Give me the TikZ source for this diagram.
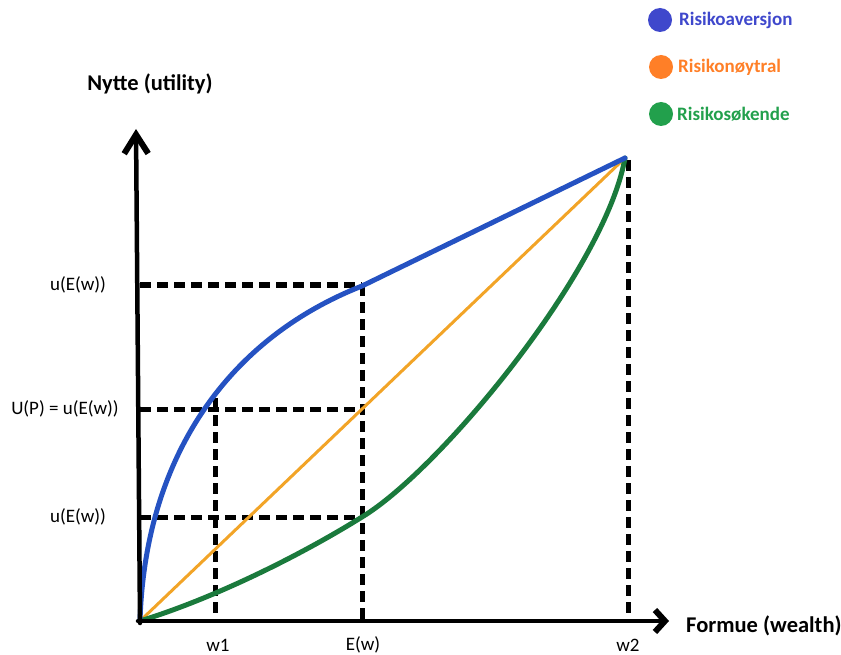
\documentclass[tikz,border=0pt]{standalone}
\usepackage{fontspec}
\setmainfont{Carlito}
\usetikzlibrary{arrows.meta}
\definecolor{cblue}{HTML}{2552C2}
\definecolor{corange}{HTML}{F2A427}
\definecolor{cgreen}{HTML}{1A7A3C}
\definecolor{lblue}{HTML}{3F48CC}
\definecolor{lorange}{HTML}{FF7F27}
\definecolor{lgreen}{HTML}{22A04C}
\tikzset{
  yaxis/.style={line width=4.5pt, line cap=round, -{Straight Barb[length=19pt,width=24pt,line width=6pt]}},
  xaxis/.style={line width=4.5pt, line cap=round, -{Straight Barb[length=10pt,width=22pt,line width=6pt]}},
  guide/.style={line width=5pt, dash pattern=on 11pt off 6pt},
  lbl/.style={font=\fontsize{19}{19}\selectfont, inner sep=0pt},
  title/.style={font=\fontsize{22.5}{22.5}\selectfont\bfseries, inner sep=0pt},
  legdot/.style={circle, minimum size=24pt, inner sep=0pt},
  legtxt/.style={font=\fontsize{19}{19}\selectfont\bfseries, inner sep=0pt, anchor=west},
  curve/.style={line width=5pt, line cap=round, line join=round}
}
\begin{document}
\begin{tikzpicture}[x=1pt,y=-1pt]
\useasboundingbox (0,0) rectangle (841,655);
\coordinate (O) at (140,621);
\coordinate (T) at (625,158);
\coordinate (ytip) at (136,129);
\coordinate (xtip) at (669,621);
\coordinate (y1) at (140,285);
\coordinate (y2) at (140,409);
\coordinate (y3) at (140,517);
\coordinate (p1) at (362,285);
\coordinate (p2) at (362,409);
\coordinate (p3) at (362,517);
\coordinate (q1) at (215,398);
\coordinate (b1) at (215,621);
\coordinate (b2) at (362,621);
\coordinate (b3) at (628,621);
\coordinate (t3) at (628,160);
% dashed guides
\draw[guide] (y1) -- (p1);
\draw[guide] (y2) -- (p2);
\draw[guide] (y3) -- (p3);
\draw[guide] (q1) -- (b1);
\draw[guide] (p1) -- (b2);
\draw[guide] (t3) -- (b3);
% curves
\draw[corange, line width=3pt] (O) -- (T);
\draw[cgreen, curve] (O) .. controls (215,598) and (301,555) .. (p3)
   .. controls (440,470) and (605,270) .. (T);
\draw[cblue, curve] (O) .. controls (145,460) and (225,340) .. (362,286) -- (T);
% axes
\draw[yaxis] (140,623) -- (ytip);
\draw[xaxis] (138,621) -- (xtip);
% labels
\node[title] (ny) at (150,84) {Nytte (utility)};
\node[title, anchor=west] (fo) at (686,626) {Formue (wealth)};
\node[lbl] (l1) at (78,285) {u(E(w))};
\node[lbl] (l2) at (65,409) {U(P) = u(E(w))};
\node[lbl] (l3) at (78,517) {u(E(w))};
\node[lbl] (w1) at (218,645) {w1};
\node[lbl] (ew) at (363,645) {E(w)};
\node[lbl] (w2) at (628,645) {w2};
% legend
\node[legdot, fill=lblue] (d1) at (660,20) {};
\node[legtxt, text=lblue] (t1) at (679,20) {Risikoaversjon};
\node[legdot, fill=lorange] (d2) at (661,67) {};
\node[legtxt, text=lorange] (t2) at (678,67) {Risikonøytral};
\node[legdot, fill=lgreen] (d3) at (661,114) {};
\node[legtxt, text=lgreen] (t3n) at (677,114) {Risikosøkende};
\end{tikzpicture}
\end{document}
